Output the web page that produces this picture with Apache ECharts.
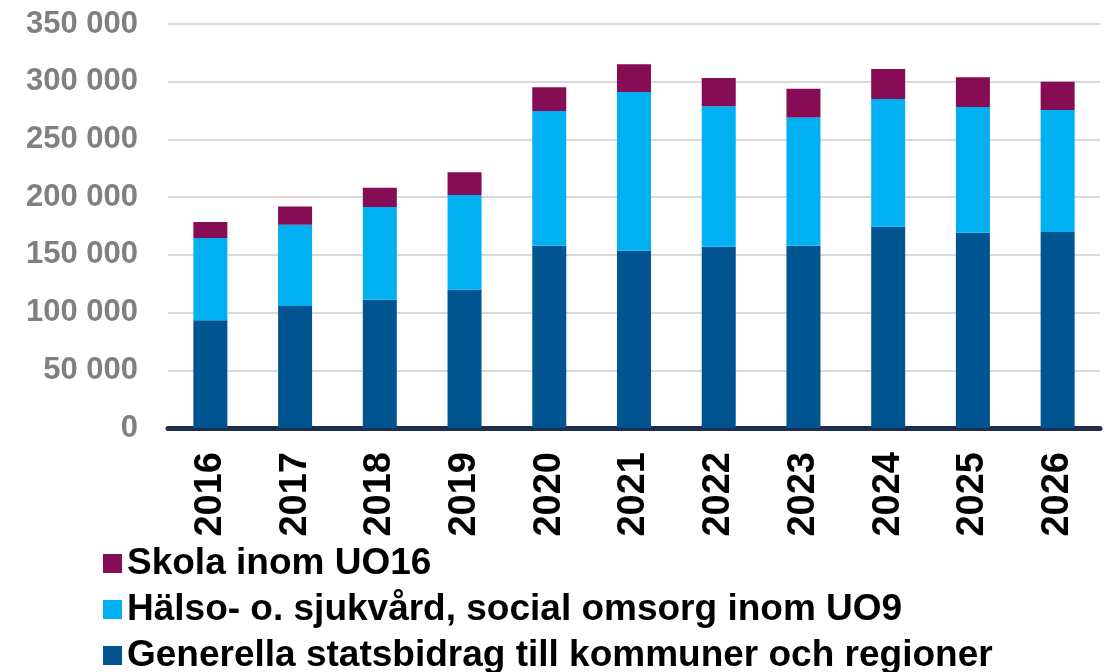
<!DOCTYPE html>
<html>
<head>
<meta charset="utf-8">
<script src="https://cdn.jsdelivr.net/npm/echarts@6/dist/echarts.min.js"></script>
<style>html,body{margin:0;padding:0;background:#fff;}#c{width:1110px;height:672px;}</style>
</head>
<body>
<div id="c"></div>
<script>
var years = ['2016','2017','2018','2019','2020','2021','2022','2023','2024','2025','2026'];
var generella = [93300,105700,111200,119800,157900,153600,157100,157900,174400,169200,169800];
var halso = [71300,70400,80300,82000,116700,137500,121600,111200,110600,108900,105700];
var skola = [13900,15900,16700,19700,20500,24000,24500,24800,26000,25700,24500];
var yTicks = [0,50000,100000,150000,200000,250000,300000,350000];

var chart = echarts.init(document.getElementById('c'));
var FONT = '"Liberation Sans", Arial, sans-serif';
chart.setOption({
  animation: false,
  grid: {left: 168, right: 10, top: 24, bottom: 244, containLabel: false},
  legend: {
    orient: 'vertical', left: 98, top: 540, height: 140, itemGap: 9,
    itemWidth: 19, itemHeight: 19, icon: 'rect',
    data: ['Skola inom UO16','Hälso- o. sjukvård, social omsorg inom UO9','Generella statsbidrag till kommuner och regioner'],
    textStyle: {fontFamily: FONT, fontSize: 37, fontWeight: 'bold', color: '#000', lineHeight: 36, padding: [0,0,0,0]}
  },
  xAxis: {
    type: 'category', data: years,
    axisLine: {lineStyle: {color: '#1F2D4E', width: 5}},
    axisTick: {show: false},
    axisLabel: {rotate: 90, margin: 24, fontFamily: FONT, fontSize: 38, fontWeight: 'bold', color: '#000'}
  },
  yAxis: {
    type: 'value', min: 0, max: 350000, interval: 50000,
    axisLine: {show: false}, axisTick: {show: false},
    splitLine: {lineStyle: {color: '#D9D9D9', width: 2}},
    axisLabel: {margin: 30, fontFamily: FONT, fontSize: 31, fontWeight: 'bold', color: '#808080',
      formatter: function(v){ return v === 0 ? '0' : String(v).replace(/\B(?=(\d{3})+(?!\d))/g, ' '); }}
  },
  series: [
    {name: 'Generella statsbidrag till kommuner och regioner', type: 'bar', stack: 't', data: generella, barWidth: 34, itemStyle: {color: '#005591'}},
    {name: 'Hälso- o. sjukvård, social omsorg inom UO9', type: 'bar', stack: 't', data: halso, barWidth: 34, itemStyle: {color: '#00B0F0'}},
    {name: 'Skola inom UO16', type: 'bar', stack: 't', data: skola, barWidth: 34, itemStyle: {color: '#850C55'}}
  ]
});
</script>
</body>
</html>
